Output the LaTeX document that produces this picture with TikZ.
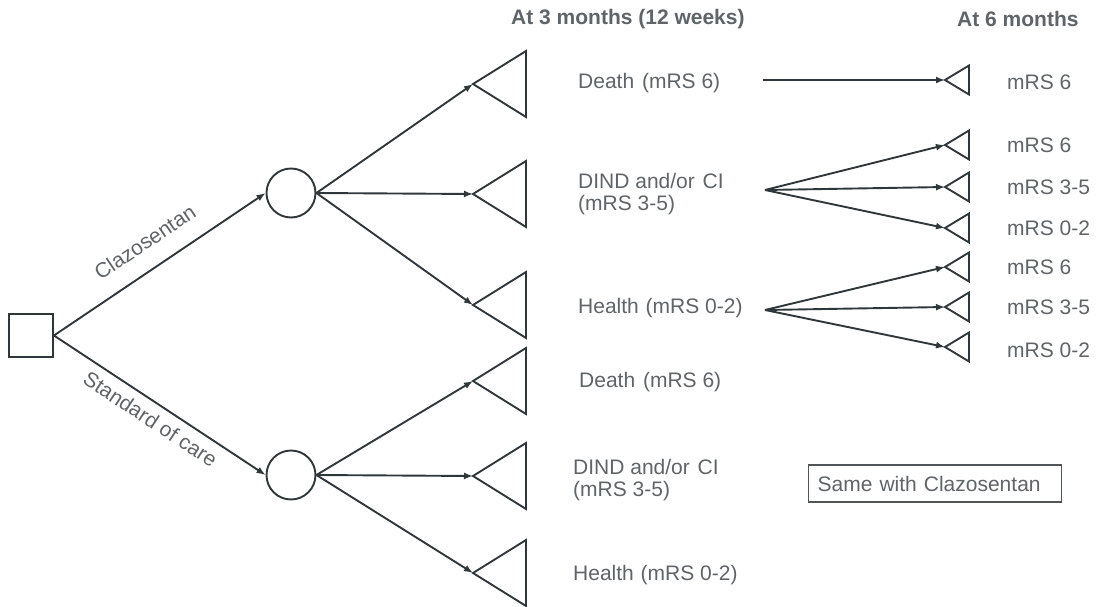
\documentclass[tikz,border=0pt]{standalone}
\usepackage{fontspec}
\setmainfont{Liberation Sans}
\usetikzlibrary{arrows.meta}
\definecolor{ln}{HTML}{30373B}
\definecolor{tx}{HTML}{5F6468}
\tikzset{
  ln/.style={draw=ln, line width=1.9pt, line join=miter},
  arr/.style={ln, -{Latex[length=9pt,width=7pt]}},
  lbl/.style={text=tx, font=\fontsize{21}{22}\selectfont, anchor=west, inner sep=0pt, align=left},
  hdr/.style={text=tx, font=\fontsize{21}{22}\selectfont\bfseries, anchor=west, inner sep=0pt},
  brlbl/.style={text=tx, font=\fontsize{21}{22}\selectfont, inner sep=0pt, sloped},
}
\begin{document}
\begin{tikzpicture}[x=1pt,y=-1pt]
\useasboundingbox (0,0) rectangle (1098,607);
% headers
\node[hdr] (h3) at (511,19) {At 3 months (12 weeks)};
\node[hdr] (h6) at (957,19) {At 6 months};
% decision node
\node[ln, rectangle, minimum width=44pt, minimum height=43pt, inner sep=0pt] (sq) at (31,335.5) {};
% chance nodes
\node[ln, circle, minimum size=49pt, inner sep=0pt] (c1) at (291,193) {};
\node[ln, circle, minimum size=49pt, inner sep=0pt] (c2) at (291,475) {};
% 3-month terminal triangles
\foreach \n/\y in {t1/84, t2/194, t3/305, t4/381, t5/476, t6/573}{
  \coordinate (\n) at (473,\y);
  \draw[ln] (\n) -- ++(53,-33) -- ++(0,66) -- cycle;
}
% 6-month triangles
\foreach \n/\y in {s1/80, s2/145, s3/187, s4/228, s5/267, s6/307, s7/347}{
  \coordinate (\n) at (945,\y);
  \draw[ln] (\n) -- ++(24,-14.5) -- ++(0,29) -- cycle;
}
% branch arrows
\draw[arr] (sq.east) -- node[brlbl, pos=0.5, above=18pt] {Clazosentan} (c1.west);
\draw[arr] (sq.east) -- node[brlbl, pos=0.5, below=8pt] {Standard of care} (c2.west);
\draw[arr] (c1.east) -- (t1);
\draw[arr] (c1.east) -- (t2);
\draw[arr] (c1.east) -- (t3);
\draw[arr] (c2.east) -- (t4);
\draw[arr] (c2.east) -- (t5);
\draw[arr] (c2.east) -- (t6);
% 3-month labels
\node[lbl] (l1) at (578,83) {Death\hspace{2pt} (mRS 6)};
\node[lbl] (l2) at (578,194) {DIND and/or\hspace{2pt} CI\\(mRS 3-5)};
\node[lbl] (l3) at (578,308) {Health\hspace{1pt} (mRS 0-2)};
\node[lbl] (l4) at (579,382) {Death\hspace{2pt} (mRS 6)};
\node[lbl] (l5) at (573,480) {DIND and/or\hspace{2pt} CI\\(mRS 3-5)};
\node[lbl] (l6) at (573,575) {Health\hspace{1pt} (mRS 0-2)};
% fan origins
\coordinate (f1) at (763,80);
\coordinate (f2) at (765,190);
\coordinate (f3) at (765,310);
\draw[arr] (f1) -- (s1);
\draw[arr] (f2) -- (s2);
\draw[arr] (f2) -- (s3);
\draw[arr] (f2) -- (s4);
\draw[arr] (f3) -- (s5);
\draw[arr] (f3) -- (s6);
\draw[arr] (f3) -- (s7);
% 6-month labels
\node[lbl] (m1) at (1007,82) {mRS 6};
\node[lbl] (m2) at (1007,145) {mRS 6};
\node[lbl] (m3) at (1007,187) {mRS 3-5};
\node[lbl] (m4) at (1007,228) {mRS 0-2};
\node[lbl] (m5) at (1007,267) {mRS 6};
\node[lbl] (m6) at (1007,307) {mRS 3-5};
\node[lbl] (m7) at (1007,350) {mRS 0-2};
% note box
\node[draw=ln!85, line width=1.4pt, text=tx, font=\fontsize{21}{22}\selectfont, anchor=west, inner xsep=9pt, minimum height=37pt, text width=235pt, align=left] (note) at (808,483.5) {Same with Clazosentan};
\end{tikzpicture}
\end{document}
